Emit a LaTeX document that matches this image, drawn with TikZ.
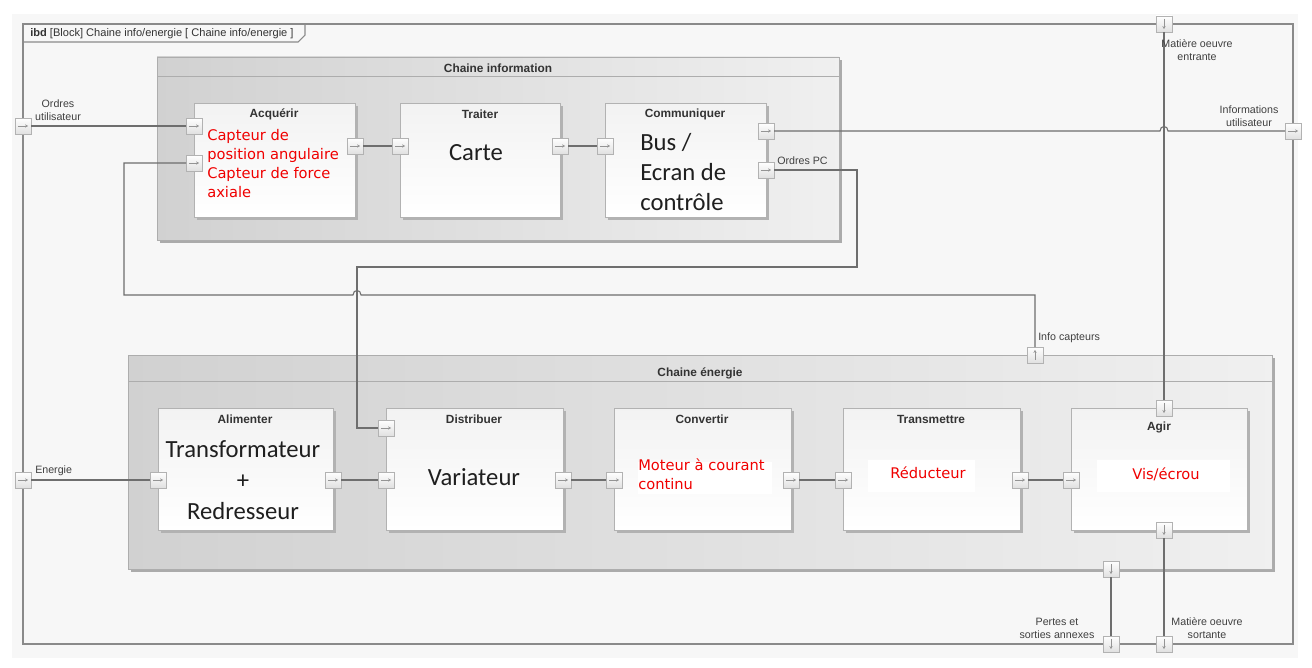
\documentclass[tikz,border=0pt]{standalone}
\usepackage{fontspec}
\setmainfont{Liberation Sans}
\newfontfamily\calfont{Carlito}
\newfontfamily\dvfont{DejaVu Sans}
\usetikzlibrary{arrows.meta,shadows,fit}

\definecolor{wirec}{HTML}{6E6E6E}
\definecolor{framec}{HTML}{8A8A8A}
\definecolor{pagebg}{HTML}{F7F7F7}
\definecolor{redtext}{HTML}{F00000}

\tikzset{
  wire/.style={draw=wirec, line width=0.8pt},
  parrow/.style={draw=black!42, line width=0.45pt, -{Stealth[length=2.2pt,width=2.4pt]}},
  portbox/.style={draw=black!30, line width=0.5pt, top color=white, bottom color=black!12,
    minimum size=12pt, inner sep=0pt, outer sep=0pt},
  portR/.style={portbox, path picture={\draw[parrow]
    ([xshift=-3.8pt]path picture bounding box.center) -- ([xshift=3.8pt]path picture bounding box.center);}},
  portD/.style={portbox, path picture={\draw[parrow]
    ([yshift=3.8pt]path picture bounding box.center) -- ([yshift=-3.8pt]path picture bounding box.center);}},
  portU/.style={portbox, path picture={\draw[parrow]
    ([yshift=-3.8pt]path picture bounding box.center) -- ([yshift=3.8pt]path picture bounding box.center);}},
  block/.style={draw=black!30, line width=0.7pt, top color=black!5, bottom color=white,
    inner sep=0pt, drop shadow={shadow xshift=2.2pt, shadow yshift=-2.2pt, fill=black!30, opacity=1}},
  chain/.style={draw=black!32, line width=0.7pt, left color=black!18, right color=black!6,
    inner sep=0pt, drop shadow={shadow xshift=2.2pt, shadow yshift=-2.2pt, fill=black!33, opacity=1}},
  ttl/.style={font=\fontsize{8.9}{10}\selectfont\bfseries, text=black!80, inner sep=0pt},
  lbl/.style={font=\fontsize{8}{9.75}\selectfont, text=black!75, align=center, inner sep=0pt},
  big/.style={font=\calfont\fontsize{18.5}{23}\selectfont, text=black!88, inner sep=0pt},
  redtxt/.style={font=\dvfont\fontsize{11}{14.25}\selectfont, text=redtext, align=left, inner sep=0pt},
  whitepad/.style={fill=white, draw=none, inner sep=0pt},
}

\begin{document}
\begin{tikzpicture}[x=0.75pt, y=-0.75pt]
\useasboundingbox (0,0) rectangle (1312,667);
\fill[white] (0,0) rectangle (1312,667);
\fill[pagebg] (12,14) rectangle (1298,658);

% outer frame with its name tab
\draw[framec, line width=0.8pt] (23,24) rectangle (1293,644);
\draw[framec, line width=0.8pt] (23,42) -- (298,42) -- (305,35) -- (305,24);
\node[anchor=west, inner sep=0pt, font=\fontsize{8.3}{9}\selectfont, text=black!80] (hdr) at (30,34)
  {\textbf{ibd} [Block] Chaine info/energie [ Chaine info/energie ]};

% information chain
\node[chain, fit={(157,57) (839,240)}] (cinfo) {};
\draw[black!32, line width=0.7pt] (157,76) -- (839,76);
\node[ttl] (t-cinfo) at (498,68) {Chaine information};

\node[block, fit={(194,103) (355,217)}] (acq) {};
\node[block, fit={(400,103) (560,217)}] (trt) {};
\node[block, fit={(605,103) (766,217)}] (com) {};
\node[ttl] (t-acq) at (274,114) {Acquérir};
\node[ttl] (t-trt) at (480,114) {Traiter};
\node[ttl] (t-com) at (685,114) {Communiquer};

\node[redtxt, anchor=west] (x-acq) at (207,163.5)
  {Capteur de\\position angulaire\\Capteur de force\\axiale};
\node[big] (x-trt) at (476,153) {Carte};
\node[big, anchor=west, align=left, font=\calfont\fontsize{18.5}{22.5}\selectfont] (x-com) at (640,172)
  {Bus /\\Ecran de\\contrôle};

% energy chain
\node[chain, fit={(128,355) (1272,569)}] (cener) {};
\draw[black!32, line width=0.7pt] (128,381) -- (1272,381);
\node[ttl] (t-cener) at (700,373) {Chaine énergie};

\node[block, fit={(158,408) (333,530)}] (ali) {};
\node[block, fit={(386,408) (563,530)}] (dis) {};
\node[block, fit={(614,408) (791,530)}] (cnv) {};
\node[block, fit={(843,408) (1020,530)}] (trm) {};
\node[block, fit={(1071,408) (1247,530)}] (agi) {};
\node[ttl] (t-ali) at (245,419) {Alimenter};
\node[ttl] (t-dis) at (474,419) {Distribuer};
\node[ttl] (t-cnv) at (702,419) {Convertir};
\node[ttl] (t-trm) at (931,419) {Transmettre};
\node[ttl] (t-agi) at (1159,427) {Agir};

\node[big, align=center, font=\calfont\fontsize{18.5}{23.25}\selectfont] (x-ali) at (243,480)
  {Transformateur\\+\\Redresseur};
\node[big] (x-dis) at (474,477) {Variateur};

\node[whitepad, fit={(638,462) (772,494)}] (w-cnv) {};
\node[redtxt, anchor=west] (x-cnv) at (638,474.5) {Moteur à courant\\continu};
\node[whitepad, fit={(868,460) (975,492)}] (w-trm) {};
\node[redtxt] (x-trm) at (928,473) {Réducteur};
\node[whitepad, fit={(1097,460) (1230,492)}] (w-agi) {};
\node[redtxt] (x-agi) at (1166,474) {Vis/écrou};

% ports
\node[portR] (o-ord)  at (23,126) {};
\node[portR] (o-info) at (1293,131) {};
\node[portD] (o-me)   at (1164,24) {};
\node[portR] (o-en)   at (23,480) {};
\node[portD] (o-pa)   at (1111,644) {};
\node[portD] (o-ms)   at (1164,644) {};

\node[portR] (acq-i1) at (194,126) {};
\node[portR] (acq-i2) at (194,163) {};
\node[portR] (acq-o)  at (355,146) {};
\node[portR] (trt-i)  at (400,146) {};
\node[portR] (trt-o)  at (560,146) {};
\node[portR] (com-i)  at (605,146) {};
\node[portR] (com-o1) at (766,131) {};
\node[portR] (com-o2) at (766,170) {};

\node[portU] (e-cap)  at (1035,355) {};
\node[portD] (e-pa)   at (1111,569) {};
\node[portR] (ali-i)  at (158,480) {};
\node[portR] (ali-o)  at (333,480) {};
\node[portR] (dis-i1) at (386,428) {};
\node[portR] (dis-i2) at (386,480) {};
\node[portR] (dis-o)  at (563,480) {};
\node[portR] (cnv-i)  at (614,480) {};
\node[portR] (cnv-o)  at (791,480) {};
\node[portR] (trm-i)  at (843,480) {};
\node[portR] (trm-o)  at (1020,480) {};
\node[portR] (agi-i)  at (1071,480) {};
\node[portD] (agi-t)  at (1164,408) {};
\node[portD] (agi-b)  at (1164,530) {};

% connectors
\draw[wire] (o-ord.east) -- (acq-i1.west);
\draw[wire] (acq-o.east) -- (trt-i.west);
\draw[wire] (trt-o.east) -- (com-i.west);
\draw[wire] (com-o1.east) -- (1160,131) .. controls (1160,125) and (1168,125) .. (1168,131) -- (o-info.west);
\draw[wire] (com-o2.east) -- (857,170) -- (857,267) -- (357,267) -- (357,428) -- (dis-i1.west);
\draw[wire] (e-cap.north) -- (1035,295) -- (361,295) .. controls (361,289) and (353,289) .. (353,295)
  -- (124,295) -- (124,163) -- (acq-i2.west);
\draw[wire] (o-me.south) -- (agi-t.north);
\draw[wire] (agi-b.south) -- (o-ms.north);
\draw[wire] (e-pa.south) -- (o-pa.north);
\draw[wire] (o-en.east) -- (ali-i.west);
\draw[wire] (ali-o.east) -- (dis-i2.west);
\draw[wire] (dis-o.east) -- (cnv-i.west);
\draw[wire] (cnv-o.east) -- (trm-i.west);
\draw[wire] (trm-o.east) -- (agi-i.west);

% flow labels
\node[lbl] (l-ord)  at (58,110.5) {Ordres\\utilisateur};
\node[lbl] (l-info) at (1249,116.5) {Informations\\utilisateur};
\node[lbl] (l-me)   at (1197,50.5) {Matière oeuvre\\entrante};
\node[lbl, anchor=west] (l-pc)  at (777,161) {Ordres PC};
\node[lbl, anchor=west] (l-cap) at (1038,338) {Info capteurs};
\node[lbl, anchor=west] (l-en)  at (35,471) {Energie};
\node[lbl] (l-pa)   at (1057,628.5) {Pertes et\\sorties annexes};
\node[lbl] (l-ms)   at (1207,628.5) {Matière oeuvre\\sortante};
\end{tikzpicture}
\end{document}
